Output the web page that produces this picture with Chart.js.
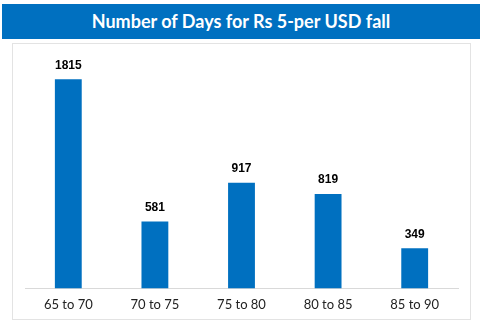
<!DOCTYPE html>
<html><head><meta charset="utf-8">
<script src="https://cdn.jsdelivr.net/npm/chart.js@4.4.0/dist/chart.umd.min.js"></script>
<style>
html,body{margin:0;padding:0;background:#fff;width:486px;height:330px;overflow:hidden}
#banner{position:absolute;left:2px;top:4px;width:478px;height:35px;background:#0070C0;color:#fff;font-family:Lato,"Open Sans",sans-serif;font-weight:bold;font-size:18px;line-height:35px;text-align:center}
#box{position:absolute;left:12px;top:43px;width:457px;height:275px;border:1px solid #e3e3e3}
#wrap{position:absolute;left:0;top:0;width:457px;height:278px}
</style></head><body>
<div id="banner">Number of Days for Rs 5-per USD fall</div>
<div id="box"><div id="wrap"><canvas id="c"></canvas></div></div>
<script>
const categories = ["65 to 70","70 to 75","75 to 80","80 to 85","85 to 90"];
const days = [1815, 581, 917, 819, 349];

const labelPlugin = {
  id:'vals',
  afterDatasetsDraw(chart){
    const ctx = chart.ctx;
    const meta = chart.getDatasetMeta(0);
    ctx.save();
    ctx.font = 'bold 12px "Liberation Sans", Arial, sans-serif';
    ctx.fillStyle = '#000';
    ctx.textAlign = 'center';
    ctx.textBaseline = 'bottom';
    meta.data.forEach((bar,i)=>{
      ctx.fillText(String(days[i]), bar.x, bar.y - 8);
    });
    ctx.restore();
  }
};

new Chart(document.getElementById('c'), {
  type:'bar',
  data:{labels:categories, datasets:[{data:days, backgroundColor:'#0070C0', barPercentage:0.31, categoryPercentage:1.0}]},
  options:{
    responsive:true, maintainAspectRatio:false, animation:false,
    layout:{padding:{left:12, right:12, top:14, bottom:0}},
    plugins:{legend:{display:false}, tooltip:{enabled:false}, title:{display:false}},
    scales:{
      y:{display:false, min:0, max:2000},
      x:{grid:{display:false, drawTicks:false}, border:{display:true, color:'#d9d9d9', width:1},
         ticks:{color:'#222', padding:9, font:{family:'Lato, "Open Sans", sans-serif', size:13}}}
    }
  },
  plugins:[labelPlugin]
});
</script>
</body></html>
